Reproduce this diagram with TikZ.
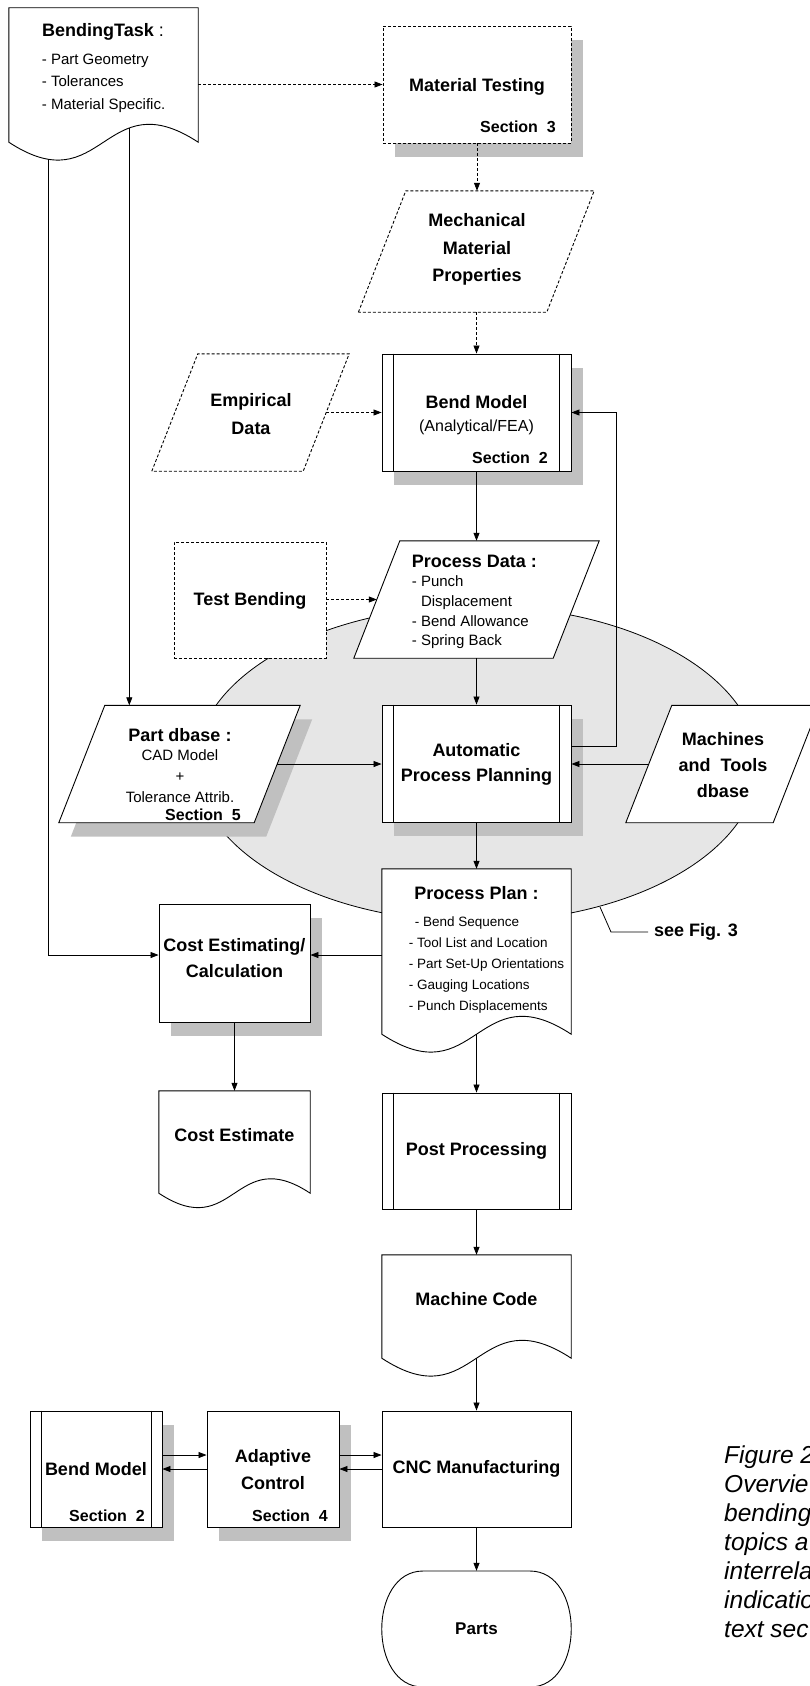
\documentclass[tikz,border=0pt]{standalone}
\usepackage{fontspec}
\setmainfont{Liberation Sans}
\usetikzlibrary{arrows.meta,shadows,calc}

\definecolor{shadowgray}{HTML}{C0C0C0}
\definecolor{zonegray}{HTML}{E6E6E6}

\tikzset{
  every node/.style={inner sep=0pt},
  box/.style={rectangle, draw, fill=white, line width=0.9pt, inner sep=0pt},
  dbox/.style={box, dash pattern=on 3pt off 2pt},
  castshadow/.style={drop shadow={shadow xshift=12pt, shadow yshift=-14pt, fill=shadowgray, opacity=1}},
  ghost/.style={rectangle, inner sep=0pt},
  docline/.style={draw, fill=white, line width=0.9pt},
  dashline/.style={dash pattern=on 3pt off 2pt},
  arr/.style={-{Triangle[length=8pt,width=6pt]}, line width=0.8pt},
  darr/.style={arr, dashline},
  ttl/.style={font=\fontsize{18}{24}\selectfont\bfseries, align=center},
  itm/.style={font=\fontsize{15}{20}\selectfont, align=left},
  sec/.style={font=\fontsize{16}{18}\selectfont\bfseries},
}

% document outline with a wavy lower edge
\newcommand\docoutline[2]{%
  \filldraw[docline] (#1.north west) -- (#1.north east) -- (#1.south east)
    .. controls ($(#1.south)+(0,-#2)$) and ($(#1.south)+(0,#2)$) .. (#1.south west) -- cycle;}
% side bars of a predefined-process box
\newcommand\procbars[2]{%
  \draw[line width=0.9pt] ([xshift=#2]#1.north west) -- ([xshift=#2]#1.south west)
    ([xshift=-#2]#1.north east) -- ([xshift=-#2]#1.south east);}
% data (parallelogram) outline inside a frame node: name, slant, extra style
\newcommand\paraoutline[3]{%
  \filldraw[docline,#3] (#1.south west) -- ($(#1.north west)+(#2,0)$) -- (#1.north east)
    -- ($(#1.south east)+(-#2,0)$) -- cycle;}
% offset grey shadow of a parallelogram
\newcommand\parashadow[2]{%
  \fill[shadowgray] ($(#1.south west)+(12,14)$) -- ($(#1.north west)+(#2+12,14)$)
    -- ($(#1.north east)+(12,14)$) -- ($(#1.south east)+(12-#2,14)$) -- cycle;}

\begin{document}
\begin{tikzpicture}[x=1pt,y=-1pt]
\useasboundingbox (0,0) rectangle (810,1686);

% planning zone
\draw[fill=zonegray, line width=0.8pt] (477,764) ellipse [x radius=281pt, y radius=158pt];

% ---------- shapes ----------
\node[ghost, minimum width=189pt, minimum height=134pt] (bt) at (103.5,75) {};
\docoutline{bt}{62}

\node[dbox, castshadow, minimum width=188pt, minimum height=117pt] (mt) at (477,84.5) {};

\node[ghost, minimum width=235.4pt, minimum height=121pt] (mech) at (476.3,251.5) {};
\paraoutline{mech}{47.4}{dashline}

\node[ghost, minimum width=197pt, minimum height=117pt] (emp) at (250.5,412.5) {};
\paraoutline{emp}{46}{dashline}

\node[box, castshadow, minimum width=189pt, minimum height=117pt] (bm) at (476.5,412.5) {};
\procbars{bm}{12pt}

\node[dbox, minimum width=152pt, minimum height=116pt] (tb) at (250,600) {};

\node[ghost, minimum width=245pt, minimum height=117pt] (pd) at (476.5,599.5) {};
\paraoutline{pd}{46}{}

\node[ghost, minimum width=241pt, minimum height=117pt] (pdb) at (179.5,764) {};
\parashadow{pdb}{46}
\paraoutline{pdb}{46}{}

\node[box, castshadow, minimum width=189pt, minimum height=117pt] (app) at (476.5,763.5) {};
\procbars{app}{12pt}

\node[ghost, minimum width=193pt, minimum height=117pt] (mach) at (722.5,764) {};
\paraoutline{mach}{46}{}

\node[ghost, minimum width=189pt, minimum height=165pt] (pplan) at (476.5,951.5) {};
\docoutline{pplan}{62}

\node[box, castshadow, minimum width=151pt, minimum height=118pt] (cost) at (234.5,963) {};

\node[ghost, minimum width=151pt, minimum height=102pt] (cest) at (234.5,1142) {};
\docoutline{cest}{50}

\node[box, minimum width=189pt, minimum height=116pt] (post) at (476.5,1151) {};
\procbars{post}{12pt}

\node[ghost, minimum width=189pt, minimum height=103pt] (mcode) at (476.5,1306.5) {};
\docoutline{mcode}{62}

\node[box, castshadow, minimum width=132pt, minimum height=116pt] (bm2) at (96,1469) {};
\procbars{bm2}{11.5pt}
\node[box, castshadow, minimum width=132pt, minimum height=116pt] (adapt) at (273,1469) {};
\node[box, minimum width=189pt, minimum height=116pt] (cnc) at (476.5,1469) {};

\node[ghost, minimum width=189pt, minimum height=116pt] (parts) at (476.5,1629) {};
\filldraw[docline] (423,1571) -- (530,1571) .. controls (585,1571) and (585,1687) .. (530,1687)
  -- (423,1687) .. controls (368,1687) and (368,1571) .. (423,1571) -- cycle;

% ---------- connectors ----------
\coordinate (btL) at (48.3,159.1);
\coordinate (btR) at (129.3,127.6);
\coordinate (costin) at (0,955);
\coordinate (fb) at (616,746);
\coordinate (emp-r) at ($(emp.east)+(-23,0)$);
\coordinate (pd-l) at ($(pd.west)+(23,0)$);
\coordinate (pdb-r) at ($(pdb.east)+(-23,0)$);
\coordinate (mach-l) at ($(mach.west)+(23,0)$);

\draw[darr] (bt.east |- mt.west) -- (mt.west);
\draw[darr] (mt.south) -- (mt.south |- mech.north);
\draw[darr] (bm.north |- mech.south) -- (bm.north);
\draw[darr] (emp-r) -- (bm.west |- emp-r);
\draw[arr] (bm.south) -- (bm.south |- pd.north);
\draw[darr] (tb.east |- pd-l) -- (pd-l);
\draw[arr] (app.north |- pd.south) -- (app.north);
\draw[arr] (btR) -- (btR |- pdb.north);
\draw[arr] (pdb-r) -- (app.west |- pdb-r);
\draw[arr] (mach-l) -- (app.east |- mach-l);
\draw[arr] (app.east |- fb) -- (fb) |- (bm.east);
\draw[arr] (app.south) -- (pplan.north);
\draw[arr] (pplan.west |- costin) -- (cost.east |- costin);
\draw[arr] (btL) |- (cost.west |- costin);
\draw[arr] (cost.south) -- (cest.north);
\draw[arr] (pplan.south) -- (post.north);
\draw[arr] (post.south) -- (mcode.north);
\draw[arr] (mcode.south) -- (cnc.north);
\draw[arr] (cnc.south) -- (parts.north);
\draw[arr] ([yshift=14pt]bm2.east) -- ([yshift=14pt]adapt.west);
\draw[arr] (adapt.west) -- (bm2.east);
\draw[arr] ([yshift=14pt]adapt.east) -- ([yshift=14pt]cnc.west);
\draw[arr] (cnc.west) -- (adapt.east);

% ---------- labels ----------
\node[ttl] (btt) at (103,31.7) {BendingTask {\mdseries :}};
\node[itm, font=\fontsize{15}{22.7}\selectfont, anchor=west] (btl) at (41.7,83.3)
  {- Part Geometry\\- Tolerances\\- Material Specific.};

\node[ttl] (mtt) at (477,87) {Material Testing};
\node[sec, anchor=east] (mts) at (556,127) {Section\ \ 3};

\node[ttl, font=\fontsize{18}{27.5}\selectfont\bfseries] (mecht) at (477,249.5) {Mechanical\\Material\\Properties};

\node[ttl, font=\fontsize{18}{28}\selectfont\bfseries] (empt) at (251,414) {Empirical\\Data};

\node[ttl] (bmt) at (476.5,402) {Bend Model};
\node[font=\fontsize{16}{18}\selectfont] (bmsub) at (476.5,427) {(Analytical/FEA)};
\node[sec, anchor=east] (bms) at (548,458) {Section\ \ 2};

\node[ttl] (tbt) at (250,601) {Test Bending};

\node[ttl, anchor=west] (pdt) at (411.7,561.7) {Process Data :};
\node[itm, font=\fontsize{15}{19.7}\selectfont, anchor=west] (pdl) at (411.7,612.5)
  {- Punch\\\phantom{- }Displacement\\- Bend Allowance\\- Spring Back};

\node[ttl] (pdbt) at (180,735) {Part dbase :};
\node[font=\fontsize{15}{21}\selectfont, align=center] (pdbl) at (180,776) {CAD Model\\+\\Tolerance Attrib.};
\node[sec, anchor=east] (pdbs) at (241,815) {Section\ \ 5};

\node[ttl, font=\fontsize{18}{25}\selectfont\bfseries] (appt) at (476.5,764) {Automatic\\Process Planning};

\node[ttl, font=\fontsize{18}{26}\selectfont\bfseries] (macht) at (723,765) {Machines\\and\ \ Tools\\dbase};

\node[ttl] (pplant) at (476.5,893) {Process Plan :};
\node[font=\fontsize{13.5}{21}\selectfont, align=left, anchor=west] (pplanl) at (408.6,965)
  {\hspace{6pt}- Bend Sequence\\- Tool List and Location\\- Part Set-Up Orientations\\- Gauging Locations\\- Punch Displacements};

\coordinate (lead0) at (600,907);
\coordinate (lead1) at (611,932);
\node[ttl, anchor=west, inner xsep=6pt] (seefig) at (648,932) {see Fig. 3};
\draw[line width=0.8pt] (lead0) -- (lead1) -- (seefig.west);

\node[ttl, font=\fontsize{18}{26}\selectfont\bfseries] (costt) at (234.5,958) {Cost Estimating/\\Calculation};
\node[ttl] (cestt) at (234.5,1135) {Cost Estimate};
\node[ttl] (postt) at (476.5,1151) {Post Processing};
\node[ttl] (mcodet) at (476.5,1299) {Machine Code};

\node[ttl] (bm2t) at (96,1469) {Bend Model};
\node[sec, anchor=east] (bm2s) at (145,1516) {Section\ \ 2};
\node[ttl, font=\fontsize{18}{27}\selectfont\bfseries] (adaptt) at (273,1469.5) {Adaptive\\Control};
\node[sec, anchor=east] (adapts) at (328,1516) {Section\ \ 4};
\node[ttl] (cnct) at (476.5,1469) {CNC Manufacturing};
\node[ttl, font=\fontsize{17}{20}\selectfont\bfseries] (partst) at (476.5,1629) {Parts};

\node[font=\fontsize{24.5}{29}\selectfont\itshape, align=left, anchor=north west] (cap) at (724,1446)
  {Figure 2\\Overvie\\bending\\topics a\\interrela\\indicatio\\text sec};
\end{tikzpicture}
\end{document}
